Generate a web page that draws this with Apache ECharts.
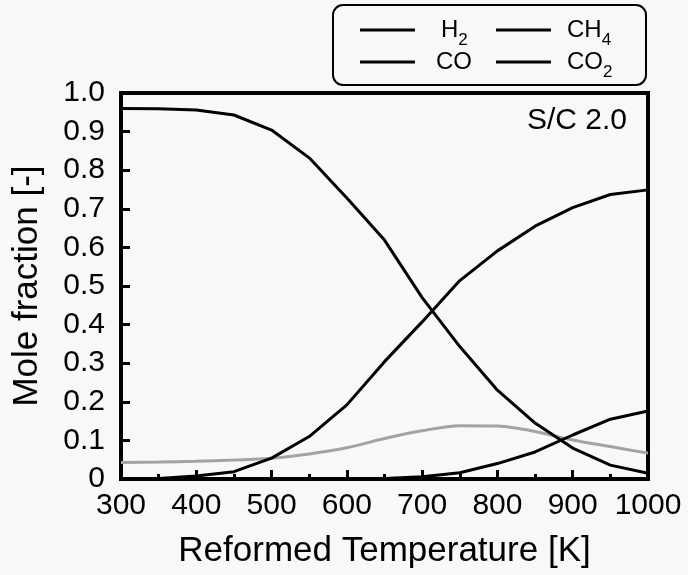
<!DOCTYPE html>
<html>
<head>
<meta charset="utf-8">
<script src="https://cdn.jsdelivr.net/npm/echarts@6/dist/echarts.min.js"></script>
<style>
  html, body { margin: 0; padding: 0; background: #f8f8f8; }
  #chart { width: 688px; height: 575px; }
</style>
</head>
<body>
<div id="chart"></div>
<script>
// Equilibrium composition of the reformed gas, S/C 2.0
const temperatures = [300, 350, 400, 450, 500, 550, 600, 650, 700, 750, 800, 850, 900, 950, 1000];
const h2  = [0.000, 0.001, 0.008, 0.019, 0.054, 0.110, 0.192, 0.304, 0.407, 0.514, 0.591, 0.655, 0.703, 0.737, 0.749];
const ch4 = [0.960, 0.959, 0.956, 0.943, 0.904, 0.832, 0.728, 0.619, 0.470, 0.343, 0.230, 0.145, 0.080, 0.036, 0.015];
const co  = [0.000, 0.000, 0.000, 0.000, 0.000, 0.000, 0.000, 0.001, 0.006, 0.016, 0.040, 0.070, 0.114, 0.155, 0.176];
const co2 = [0.043, 0.044, 0.046, 0.049, 0.054, 0.065, 0.081, 0.105, 0.125, 0.138, 0.137, 0.123, 0.101, 0.084, 0.067];

const seriesNames = ['H2', 'CH4', 'CO', 'CO2'];
// formula text with subscripts, as rich-text strings
const legendLabels = {
  H2:  '{t|H}{s|2}',
  CH4: '{t|CH}{s|4}',
  CO:  '{t|CO}',
  CO2: '{t|CO}{s|2}'
};
// legend slots: two columns, two rows
const legendSlots = {
  H2:  { left: 360, top: 18, gap: 21 },
  CH4: { left: 496, top: 18, gap: 11 },
  CO:  { left: 360, top: 50, gap: 16 },
  CO2: { left: 496, top: 50, gap: 11 }
};

const FONT = 'Liberation Sans, Arial, sans-serif';
const SUB_SHIFT = 6;   // how far a subscript sits below the formula text
const ROW_H = 26;

function pairs(values) {
  return temperatures.map((t, i) => [t, values[i]]);
}

function legendFor(name) {
  const slot = legendSlots[name];
  return {
    left: slot.left,
    top: slot.top,
    padding: 0,
    orient: 'horizontal',
    icon: 'rect',
    itemWidth: 55,
    itemHeight: 3,
    selectedMode: false,
    data: [{ name: name, itemStyle: { color: '#000' } }],
    formatter: n => '{p' + n + '|}' + legendLabels[n],
    textStyle: {
      fontFamily: FONT,
      color: '#000',
      rich: {
        // spacer that also fixes the line box height
        ['p' + name]: { width: slot.gap, lineHeight: ROW_H + 2 * SUB_SHIFT, verticalAlign: 'middle' },
        t: { fontFamily: FONT, fontSize: 24, color: '#000', lineHeight: ROW_H, verticalAlign: 'middle' },
        s: { fontFamily: FONT, fontSize: 17, color: '#000', lineHeight: ROW_H, verticalAlign: 'bottom' }
      }
    }
  };
}

const chart = echarts.init(document.getElementById('chart'));

chart.setOption({
  backgroundColor: '#f8f8f8',
  animation: false,
  textStyle: { fontFamily: FONT, color: '#000' },
  title: {
    text: 'S/C 2.0',
    right: 56,
    top: 101,
    textStyle: { fontFamily: FONT, fontSize: 30, fontWeight: 'normal', color: '#000' }
  },
  graphic: [{
    type: 'rect',
    shape: { x: 333, y: 5, width: 313, height: 80, r: 10 },
    style: { fill: 'transparent', stroke: '#000', lineWidth: 2 },
    silent: true
  }],
  legend: seriesNames.map(legendFor),
  grid: {
    left: 121,
    right: 40,
    top: 93,
    bottom: 96,
    show: true,
    borderColor: '#000',
    borderWidth: 4,
    backgroundColor: 'transparent'
  },
  xAxis: {
    type: 'value',
    min: 300,
    max: 1000,
    interval: 100,
    name: 'Reformed Temperature [K]',
    nameLocation: 'middle',
    nameGap: 55,
    nameTextStyle: { fontFamily: FONT, fontSize: 35, color: '#000' },
    axisLine: { lineStyle: { color: '#000', width: 4 } },
    axisTick: { inside: true, length: 9, lineStyle: { color: '#000', width: 3 } },
    minorTick: { show: true, splitNumber: 2, length: 5, lineStyle: { color: '#000', width: 3 } },
    axisLabel: { fontFamily: FONT, fontSize: 30, color: '#000', margin: 12, formatter: v => String(v) },
    splitLine: { show: false }
  },
  yAxis: {
    type: 'value',
    min: 0,
    max: 1,
    interval: 0.1,
    name: 'Mole fraction [-]',
    nameLocation: 'middle',
    nameGap: 76,
    nameTextStyle: { fontFamily: FONT, fontSize: 35, color: '#000' },
    axisLine: { show: true, lineStyle: { color: '#000', width: 4 } },
    axisTick: { show: true, inside: true, length: 9, lineStyle: { color: '#000', width: 3 } },
    axisLabel: {
      fontFamily: FONT, fontSize: 30, color: '#000', margin: 16,
      formatter: v => (v === 0 ? '0' : v.toFixed(1))
    },
    splitLine: { show: false }
  },
  series: [
    { name: 'H2',  type: 'line', data: pairs(h2),  symbol: 'none', lineStyle: { color: '#000', width: 3 }, itemStyle: { color: '#000' } },
    { name: 'CH4', type: 'line', data: pairs(ch4), symbol: 'none', lineStyle: { color: '#000', width: 3 }, itemStyle: { color: '#000' } },
    { name: 'CO',  type: 'line', data: pairs(co),  symbol: 'none', lineStyle: { color: '#000', width: 3 }, itemStyle: { color: '#000' } },
    { name: 'CO2', type: 'line', data: pairs(co2), symbol: 'none', smooth: 0.3, lineStyle: { color: '#a3a3a3', width: 3 }, itemStyle: { color: '#a3a3a3' }, z: 1 }
  ]
});
</script>
</body>
</html>
